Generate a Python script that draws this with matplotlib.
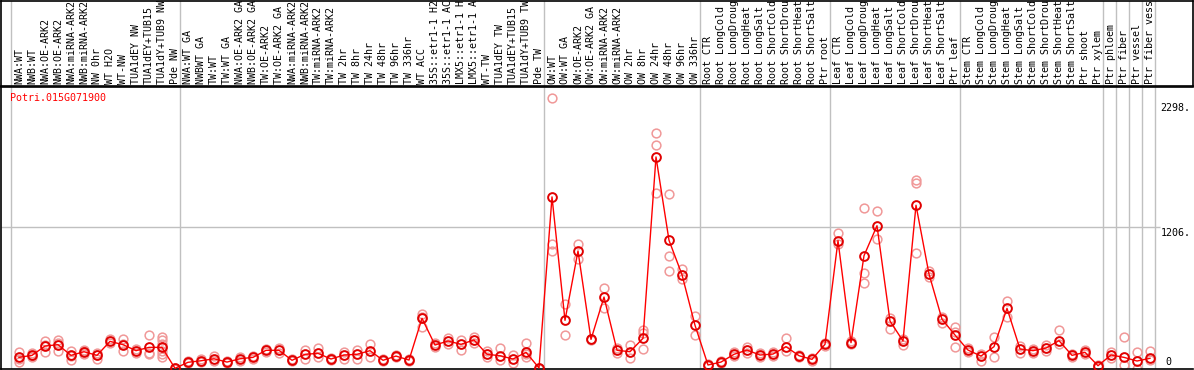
import numpy as np
import matplotlib.pyplot as plt

# sample labels, as shown (cut to 14 characters in the header)
labels = [
    "NWA:WT", "NWB:WT", "NWA:OE-ARK2", "NWB:OE-ARK2", "NWA:miRNA-ARK2", "NWB:miRNA-ARK2",
    "NW 0hr", "WT H2O", "WT-NW", "TUA1dEY NW", "TUA1dEY+TUB15", "TUA1dY+TUB9 NW", "Pde NW",
    "NWA:WT GA", "NWBWT GA", "TW:WT", "TW:WT GA", "NWA:OE-ARK2 GA", "NWB:OE-ARK2 GA",
    "TW:OE-ARK2", "TW:OE-ARK2 GA", "NWA:miRNA-ARK2", "NWB:miRNA-ARK2", "TW:miRNA-ARK2",
    "TW:miRNA-ARK2", "TW 2hr", "TW 8hr", "TW 24hr", "TW 48hr", "TW 96hr", "TW 336hr",
    "WT ACC", "35S::etr1-1 H2", "35S::etr1-1 AC", "LMX5::etr1-1 H", "LMX5::etr1-1 A",
    "WT-TW", "TUA1dEY TW", "TUA1dEY+TUB15", "TUA1dY+TUB9 TW", "Pde TW",
    "OW:WT", "OW:WT GA", "OW:OE-ARK2", "OW:OE-ARK2 GA", "OW:miRNA-ARK2", "OW:miRNA-ARK2",
    "OW 2hr", "OW 8hr", "OW 24hr", "OW 48hr", "OW 96hr", "OW 336hr",
    "Root CTR", "Root LongCold", "Root LongDroug", "Root LongHeat", "Root LongSalt",
    "Root ShortCold", "Root ShortDrou", "Root ShortHeat", "Root ShortSalt", "Ptr root",
    "Leaf CTR", "Leaf LongCold", "Leaf LongDroug", "Leaf LongHeat", "Leaf LongSalt",
    "Leaf ShortCold", "Leaf ShortDrou", "Leaf ShortHeat", "Leaf ShortSalt", "Ptr leaf",
    "Stem CTR", "Stem LongCold", "Stem LongDroug", "Stem LongHeat", "Stem LongSalt",
    "Stem ShortCold", "Stem ShortDrou", "Stem ShortHeat", "Stem ShortSalt", "Ptr shoot",
    "Ptr xylem", "Ptr phloem", "Ptr fiber", "Ptr vessel", "Ptr fiber vess",
]

means = [
    95, 112, 191, 203, 112, 143, 112, 231, 203, 152, 180, 180, 2,
    53, 66, 83, 55, 83, 95, 155, 155, 70, 121, 129, 81, 115, 121, 152, 70, 106, 72,
    427, 200, 234, 206, 243, 121, 109, 81, 138, 5,
    1460, 410, 1000, 248, 608, 155, 143, 257, 1800, 1091, 798, 368,
    30, 55, 121, 157, 115, 123, 186, 109, 78, 206,
    1088, 220, 960, 1215, 404, 234, 1389, 804, 419, 285,
    157, 106, 186, 512, 166, 152, 174, 237, 112, 138,
    24, 115, 95, 64, 87,
]

reps = [
    [143, 58, 85], [135, 95, 105], [231, 143, 200], [245, 149, 215], [152, 75, 110],
    [155, 120, 150], [135, 85, 115], [248, 215], [251, 149, 210], [170, 130],
    [288, 121, 130], [271, 240, 210, 180, 150, 120, 100], [0, 5],
    [60, 45], [80, 55], [105, 60], [65, 45], [100, 65], [110, 80], [170, 140], [175, 135],
    [85, 60], [157, 85], [172, 95], [90, 70], [140, 80], [160, 80], [208, 100], [80, 60],
    [115, 100], [80, 62],
    [461, 356, 440], [215, 185], [260, 210], [243, 157], [265, 220], [145, 100],
    [177, 70], [115, 45], [214, 100, 120], [0, 8],
    [2299, 1057, 1000], [546, 285], [1057, 929], [255, 240], [685, 518], [175, 135],
    [197, 92], [325, 300, 163], [2001, 1899, 1496], [1482, 957, 830], [849, 760], [447, 285],
    [20, 40], [65, 45], [140, 105], [185, 130], [130, 100], [140, 110], [257, 150],
    [115, 100], [90, 65], [215, 195],
    [1150, 1060], [230, 210], [1363, 810, 725], [1340, 1100], [430, 334], [250, 200],
    [1600, 1580, 980], [830, 780], [440, 390], [356, 310, 180],
    [175, 140], [120, 60], [266, 100], [574, 441], [190, 130], [170, 130], [200, 150],
    [328, 210], [125, 100], [155, 125],
    [15, 30], [140, 90], [271, 30], [143, 0], [149, 70],
]

# index of last column in each group (separator drawn just after it)
group_ends = [-1, 12, 40, 52, 62, 72, 83, 84, 85, 86, 87]

W, H = 1194, 370
fig = plt.figure(figsize=(W / 100, H / 100), dpi=100)
mono = "DejaVu Sans Mono"
fs = 7.2

# columns are 13 px apart, first one at x=19
x0, step = 19, 13
xl = ((1 - x0) / step, (1193 - x0) / step)

ax = fig.add_axes([1 / W, 1 / H, 1192 / W, 282 / H])
hd = fig.add_axes([1 / W, 284 / H, 1192 / W, 85 / H])

x = np.arange(len(labels))

for a in (ax, hd):
    a.set_xlim(*xl)
    a.set_xticks([])
    a.set_yticks([])
    for g in group_ends:
        a.axvline(g + 0.4, color="#c0c0c0", lw=1, zorder=0)

ax.set_ylim(-4, 2395)
ax.spines["right"].set_visible(False)
for s in ("left", "bottom", "top"):
    ax.spines[s].set_linewidth(1.2)
for s in hd.spines.values():
    s.set_linewidth(1.2)

ax.hlines(1206, xl[0], 87.8, color="#c0c0c0", lw=1, zorder=0)

for i, r in enumerate(reps):
    ax.plot([i] * len(r), r, "o", ms=6.3, mfc="none", mec="#f09898", mew=1.1,
            clip_on=False, zorder=2)

ax.plot(x, means, "-", color="#ff0000", lw=1, zorder=3)
ax.plot(x, means, "o", ms=6.3, mfc="none", mec="#e00000", mew=1.4,
        clip_on=False, zorder=4)

hd.set_ylim(0, 85)
for i, lab in enumerate(labels):
    hd.text(i, 1.5, lab, rotation=90, ha="center", va="bottom", family=mono,
            fontsize=fs, color="black", clip_on=True)

ax.text(-0.73, 2300, "Potri.015G071900", color="red",
        family=mono, fontsize=fs, ha="left", va="center")

tick_vals = [2298, 1206, 0]
tick_text = ["2298.", "1206.", "0"]
tick_off = [-10, -6, 7]
tick_x = [87.8, 87.8, 88.2]
for v, t, o, tx in zip(tick_vals, tick_text, tick_off, tick_x):
    ax.annotate(t, xy=(tx, v), xytext=(0, o), textcoords="offset pixels",
                family=mono, fontsize=fs, ha="left", va="center",
                annotation_clip=False)

fig.savefig("out.png", dpi=100)
